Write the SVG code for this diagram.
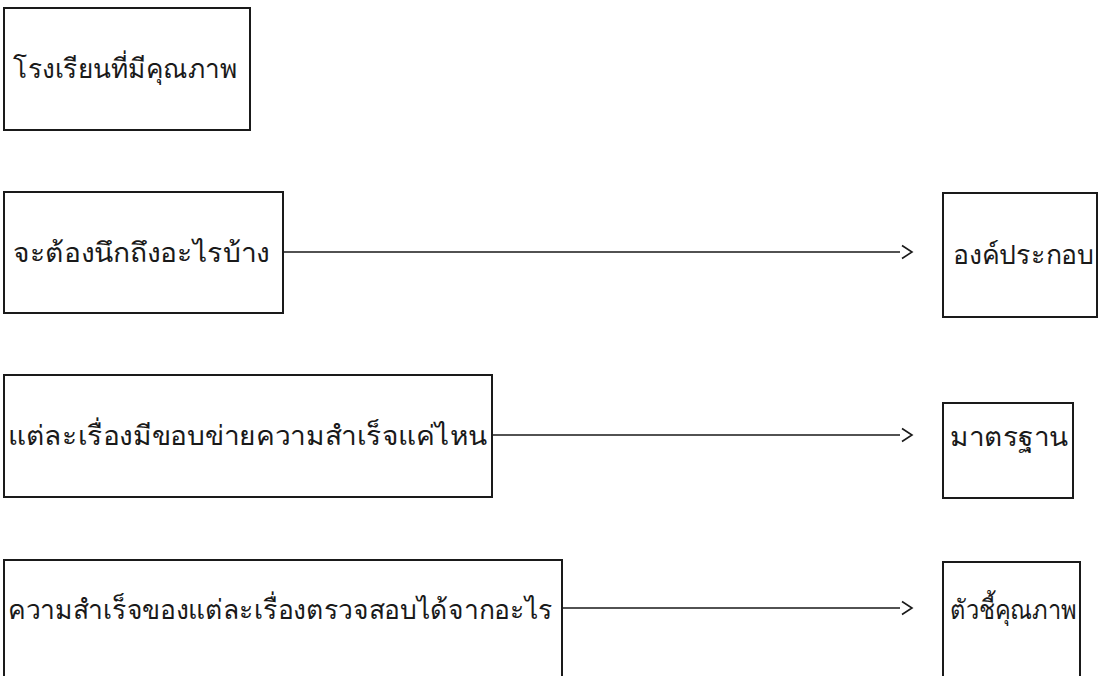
<svg xmlns="http://www.w3.org/2000/svg" width="1102" height="676" viewBox="0 0 1102 676">
<style>
.box{fill:none;stroke:#1a1a1a;stroke-width:2}
.t{font-family:"Noto Sans","DejaVu Sans",sans-serif;font-size:27px;font-weight:300;fill:#1a1a1a}
.c{fill:none;stroke:#1a1a1a;stroke-width:1.6}
</style>
<rect width="1102" height="676" fill="#ffffff"/>
<g id="n1"><rect class="box" x="4" y="8" width="246" height="122"/><text class="t" x="13" y="78" textLength="224" lengthAdjust="spacingAndGlyphs">โรงเรียนที่มีคุณภาพ</text></g>
<g id="n2"><rect class="box" x="4" y="192" width="279" height="121"/><text class="t" x="13" y="262" textLength="257" lengthAdjust="spacingAndGlyphs">จะต้องนึกถึงอะไรบ้าง</text></g>
<g id="n3"><rect class="box" x="4" y="375" width="488" height="122"/><text class="t" x="8" y="445" textLength="479" lengthAdjust="spacingAndGlyphs">แต่ละเรื่องมีขอบข่ายความสำเร็จแค่ไหน</text></g>
<g id="n4"><rect class="box" x="4" y="560" width="558" height="130"/><text class="t" x="8" y="619" textLength="545" lengthAdjust="spacingAndGlyphs">ความสำเร็จของแต่ละเรื่องตรวจสอบได้จากอะไร</text></g>
<g id="n5"><rect class="box" x="943" y="193" width="154" height="124"/><text class="t" x="953" y="264" textLength="141" lengthAdjust="spacingAndGlyphs">องค์ประกอบ</text></g>
<g id="n6"><rect class="box" x="943" y="403" width="130" height="95"/><text class="t" x="950" y="446" textLength="118" lengthAdjust="spacingAndGlyphs">มาตรฐาน</text></g>
<g id="n7"><rect class="box" x="943" y="562" width="137" height="130"/><text class="t" x="950" y="619" textLength="127" lengthAdjust="spacingAndGlyphs">ตัวชี้คุณภาพ</text></g>
<g id="connectors">
<path class="c" d="M283 252H900M902 245.5L912 252L902 258.5"/>
<path class="c" d="M492 435H900M902 428.5L912 435L902 441.5"/>
<path class="c" d="M562 608H900M902 601.5L912 608L902 614.5"/>
</g>
</svg>
